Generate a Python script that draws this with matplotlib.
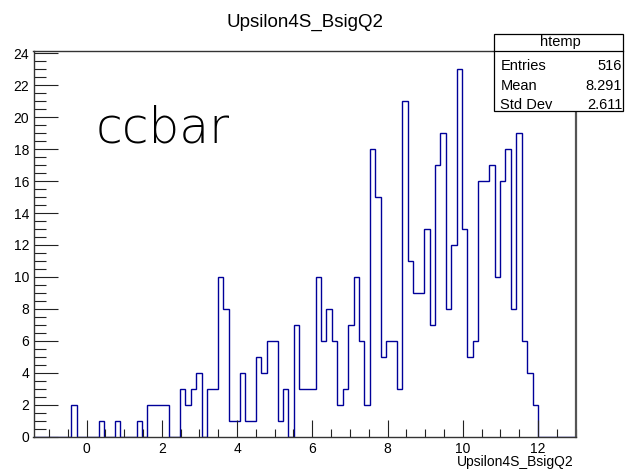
import numpy as np
import matplotlib
matplotlib.use("Agg")
import matplotlib.pyplot as plt
from matplotlib.ticker import MultipleLocator

# ---- data ----
x_min, x_max, n_bins = -1.41, 13.01, 100
counts = [0, 0, 0, 0, 0, 0, 0, 2, 0, 0,
          0, 0, 1, 0, 0, 1, 0, 0, 0, 1,
          0, 2, 2, 2, 2, 0, 0, 3, 2, 3,
          4, 0, 3, 3, 10, 8, 1, 1, 4, 1,
          1, 5, 4, 6, 6, 1, 3, 0, 7, 3,
          3, 3, 10, 6, 8, 6, 2, 3, 7, 10,
          6, 2, 18, 15, 5, 6, 6, 3, 21, 11,
          9, 9, 13, 7, 17, 19, 8, 12, 23, 13,
          5, 6, 16, 16, 17, 10, 16, 18, 8, 19,
          6, 4, 2, 0, 0, 0, 0, 0, 0, 0]
title = "Upsilon4S_BsigQ2"
xlabel = "Upsilon4S_BsigQ2"
stats_name = "htemp"
stats_rows = [("Entries", "516"), ("Mean", "8.291"), ("Std Dev", "2.611")]
annot = "ccbar"

W, H = 626, 475
plt.rcParams["font.family"] = ["Liberation Sans", "DejaVu Sans"]
fig = plt.figure(figsize=(W / 100, H / 100), dpi=100)
fig.patch.set_facecolor("white")

def fx(px):
    return px / W

def fy(py):
    return 1 - py / H

L, R, B, T = 33.5, 576, 436.5, 51
ax = fig.add_axes([fx(L), fy(B), (R - L) / W, (B - T) / H])

edges = np.linspace(x_min, x_max, n_bins + 1)
ax.stairs(counts, edges, color="#000099", lw=1.0, baseline=0)

ax.set_xlim(x_min, x_max)
ax.set_ylim(0, max(counts) * 1.05)

ax.xaxis.set_major_locator(MultipleLocator(2))
ax.xaxis.set_minor_locator(MultipleLocator(0.5))
ax.yaxis.set_major_locator(MultipleLocator(2))
ax.yaxis.set_minor_locator(MultipleLocator(0.5))
ax.tick_params(axis="x", which="major", direction="in", length=12, width=0.8,
               labelsize=10, pad=4, color="#222222")
ax.tick_params(axis="x", which="minor", direction="in", length=6, width=0.8, color="#222222")
ax.tick_params(axis="y", which="major", direction="in", length=17, width=0.8,
               labelsize=10, pad=3, color="#222222")
ax.tick_params(axis="y", which="minor", direction="in", length=8.5, width=0.8, color="#222222")
ax.tick_params(top=False, right=False)
for s in ax.spines.values():
    s.set_color("#333333")
    s.set_linewidth(1.0)
ax.spines["right"].set_linewidth(1.6)
ax.spines["right"].set_color("#555555")

fig.text(fx(574), fy(466), xlabel, ha="right", va="baseline", fontsize=10)

fig.text(fx(304.5), fy(27.3), title, ha="center", va="baseline", fontsize=13.5)

fig.text(fx(96), fy(142.7), annot, fontsize=35, fontweight=200,
         family=["DejaVu Sans"], ha="left", va="baseline")

# stats box
bx0, bx1, by0, by1, hline = 494.3, 623.3, 34, 111, 50.7
box = plt.Rectangle((fx(bx0), fy(by1)), (bx1 - bx0) / W, (by1 - by0) / H,
                    transform=fig.transFigure, facecolor="white",
                    edgecolor="black", lw=0.9, zorder=10)
fig.add_artist(box)
fig.add_artist(plt.Line2D([fx(bx0), fx(bx1)], [fy(hline)] * 2,
                          transform=fig.transFigure, color="black", lw=0.9, zorder=11))
fig.text(fx(560.7), fy(46), stats_name, ha="center", va="baseline",
         fontsize=10.5, zorder=12)
row_base = [70, 90, 109]
for (k, v), yy in zip(stats_rows, row_base):
    fig.text(fx(bx0 + 6), fy(yy), k, ha="left", va="baseline", fontsize=10.5, zorder=12)
    fig.text(fx(bx1 - 1), fy(yy), v, ha="right", va="baseline", fontsize=10.5, zorder=12)

fig.savefig("out.png", dpi=100)
